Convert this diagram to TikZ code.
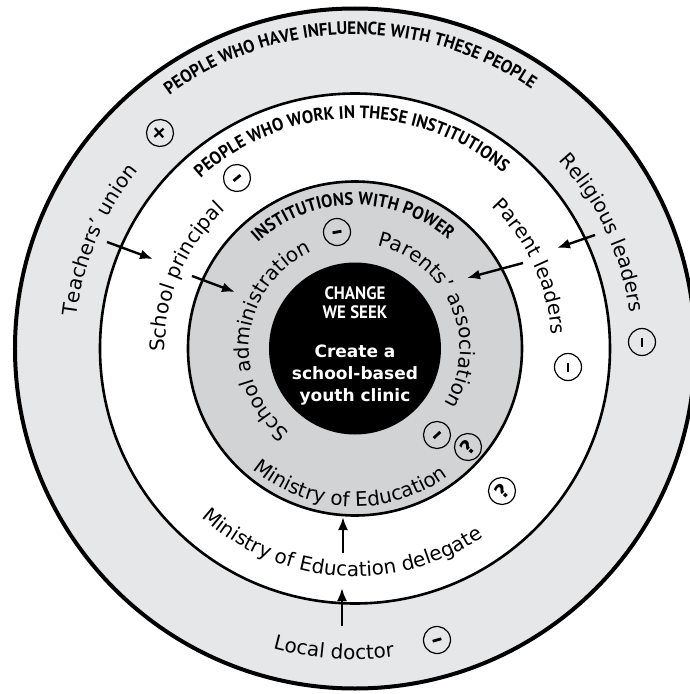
\documentclass[tikz,border=0pt]{standalone}
\usepackage{fontspec}
\newfontfamily\headfont{PT Sans}[FakeStretch=0.94]
\newfontfamily\handfont{DejaVu Sans}
\usetikzlibrary{arrows.meta,decorations.text}
\definecolor{outergray}{RGB}{230,231,232}
\definecolor{innergray}{RGB}{209,211,212}
\newcommand{\hdr}{\headfont\bfseries\fontsize{18}{18}\selectfont}
\newcommand{\hnd}{\handfont\fontsize{20}{20}\selectfont}

\begin{document}
\begin{tikzpicture}[x=1pt,y=1pt,
    ring/.style={draw=black,line width=2.6pt},
    cwtext/.style={decorate,decoration={text along path,text align=center,text={#1}}},
    sign/.style={circle,draw,line width=1.2pt,minimum size=27pt,inner sep=0pt,
        font=\handfont\bfseries\fontsize{20}{20}\selectfont},
    link/.style={line width=2.4pt,-{Latex[length=13pt,width=10pt]}}]
    \useasboundingbox (-355,-345.5) rectangle (335,348.5);
    % the four rings
    \draw[fill=outergray,line width=4pt] (0,0) circle (340);
    \draw[ring,fill=white] (0,0) circle (255);
    \draw[ring,fill=innergray] (0,0) circle (167);
    \fill (0,0) circle (86);
    % ring titles
    \path[cwtext={|\hdr|PEOPLE WHO HAVE INFLUENCE WITH THESE PEOPLE}] (176:314) arc[start angle=176,end angle=6,radius=314];
    \path[cwtext={|\hdr|PEOPLE WHO WORK IN THESE INSTITUTIONS}] (176:230) arc[start angle=176,end angle=6,radius=230];
    \path[cwtext={|\hdr|INSTITUTIONS WITH POWER}] (176:143.5) arc[start angle=176,end angle=6,radius=143.5];
    % actors, left side
    \path[cwtext={|\hnd|Teachers’ union}] (242:280) arc[start angle=242,end angle=72,radius=280];
    \path[cwtext={|\hnd|School principal}] (242:190) arc[start angle=242,end angle=72,radius=190];
    \path[cwtext={|\hnd|School administration}] (258:106) arc[start angle=258,end angle=88,radius=106];
    % actors, right side
    \path[cwtext={|\hnd|Religious leaders}] (110:277) arc[start angle=110,end angle=-60,radius=277];
    \path[cwtext={|\hnd|Parent leaders}] (110:197) arc[start angle=110,end angle=-60,radius=197];
    \path[cwtext={|\hnd|Parents’ association}] (108:105) arc[start angle=108,end angle=-62,radius=105];
    % actors, bottom
    \path[cwtext={|\hnd|Ministry of Education}] (183:158) arc[start angle=183,end angle=353,radius=158];
    \path[cwtext={|\hnd|Ministry of Education delegate}] (181:228) arc[start angle=181,end angle=351,radius=228];
    \path[cwtext={|\hnd|Local doctor}] (181:311) arc[start angle=181,end angle=351,radius=311];
    % change we seek
    \node[text=white,font=\headfont\bfseries\fontsize{18}{19}\selectfont,align=center] (seek) at (0,45.5) {CHANGE\\WE SEEK};
    \node[text=white,font=\handfont\bfseries\fontsize{17}{22}\selectfont,align=center] (clinic) at (0,-26.5) {Create a\\school-based\\youth clinic};
    % stance marks
    \node[sign,rotate=42] (tu-sign) at (-195,215.5) {+};
    \node[sign,rotate=40] (sp-sign) at (-118,170.5) {\rule{9pt}{2.8pt}};
    \node[sign,rotate=10] (sa-sign) at (-18,116.5) {\rule{9pt}{2.8pt}};
    \node[sign,rotate=44] (pa-sign) at (82,-86.5) {\rule{9pt}{2.8pt}};
    \node[sign,rotate=49] (me-sign) at (113,-98.5) {?};
    \node[sign,rotate=46] (md-sign) at (147,-142.5) {?};
    \node[sign,rotate=90] (pl-sign) at (213,-18.5) {\rule{9pt}{2.8pt}};
    \node[sign,rotate=90] (rl-sign) at (287,6.5) {\rule{9pt}{2.8pt}};
    \node[sign,rotate=16] (ld-sign) at (82,-291.5) {\rule{9pt}{2.8pt}};
    % influence arrows
    \coordinate (tu-out) at (-248,106.5);
    \coordinate (sp-in) at (-202,89.5);
    \coordinate (sp-out) at (-163,72.5);
    \coordinate (sa-in) at (-120,56.5);
    \coordinate (rl-out) at (240,113.5);
    \coordinate (pl-in) at (202,100.5);
    \coordinate (pl-out) at (168,85.5);
    \coordinate (pa-in) at (112,70.5);
    \coordinate (md-out) at (-12,-204.5);
    \coordinate (me-in) at (-12,-168.5);
    \coordinate (ld-out) at (-13,-277.5);
    \coordinate (md-in) at (-13,-239.5);
    \draw[link] (tu-out) -- (sp-in);
    \draw[link] (sp-out) -- (sa-in);
    \draw[link] (rl-out) -- (pl-in);
    \draw[link] (pl-out) -- (pa-in);
    \draw[link] (md-out) -- (me-in);
    \draw[link] (ld-out) -- (md-in);
\end{tikzpicture}
\end{document}
